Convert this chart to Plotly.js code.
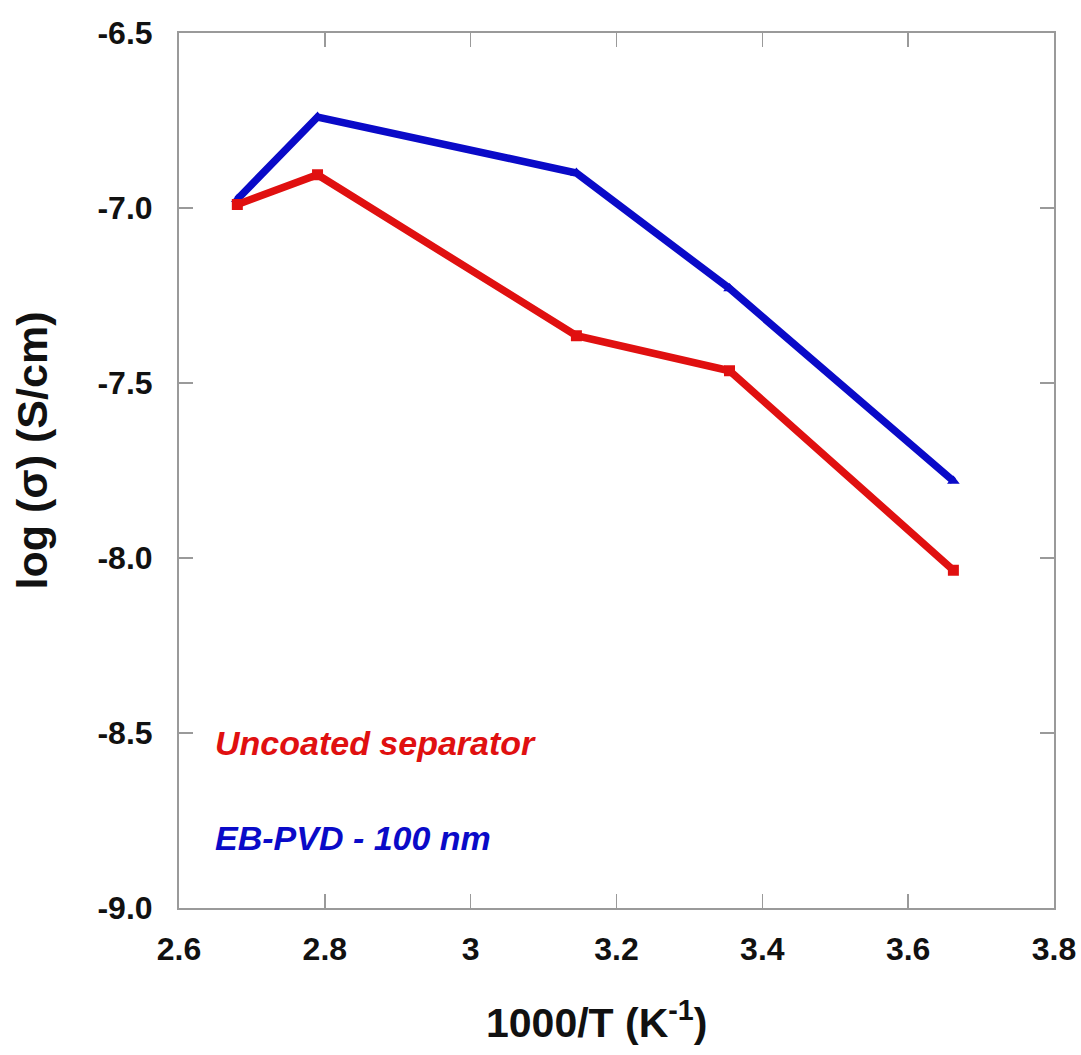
<!DOCTYPE html>
<html>
<head>
<meta charset="utf-8">
<script src="https://cdn.plot.ly/plotly-3.0.1.min.js"></script>
<style>html,body{margin:0;padding:0;background:#fff;}#chart{width:1081px;height:1055px;}</style>
</head>
<body>
<div id="chart"></div>
<script>
// Data
const invT = [2.68, 2.79, 3.145, 3.355, 3.662];
const uncoatedLogSigma = [-6.99, -6.905, -7.365, -7.465, -8.035];
const ebpvdLogSigma = [-6.975, -6.74, -6.90, -7.23, -7.78];
const xTickVals = [2.6, 2.8, 3.0, 3.2, 3.4, 3.6, 3.8];
const xTickText = ["2.6", "2.8", "3", "3.2", "3.4", "3.6", "3.8"];
const yTickVals = [-9.0, -8.5, -8.0, -7.5, -7.0, -6.5];
const yTickText = ["-9.0", "-8.5", "-8.0", "-7.5", "-7.0", "-6.5"];
const seriesNames = ["Uncoated separator", "EB-PVD - 100 nm"];
const xTitle = "1000/T (K<sup>-1</sup>)";
const yTitle = "log (σ) (S/cm)";

const FONT = "Liberation Sans, Arial, sans-serif";
const RED = "#e01010";
const BLUE = "#0a0ac8";

const traces = [
  {
    x: invT, y: ebpvdLogSigma, name: seriesNames[1], type: "scatter", mode: "lines+markers",
    line: {color: BLUE, width: 7.5},
    marker: {symbol: "triangle-up", size: 11, color: BLUE}
  },
  {
    x: invT, y: uncoatedLogSigma, name: seriesNames[0], type: "scatter", mode: "lines+markers",
    line: {color: RED, width: 7.5},
    marker: {symbol: "square", size: 11, color: RED}
  }
];

const tickFont = {family: FONT, size: 32, color: "#111", weight: "bold"};
const axisCommon = {
  showgrid: false, zeroline: false,
  showline: true, linecolor: "#9a9a9a", linewidth: 2, mirror: "ticks",
  ticks: "inside", ticklen: 14, tickwidth: 1.5, tickcolor: "#9a9a9a",
  tickfont: tickFont
};

const layout = {
  width: 1081, height: 1055,
  margin: {l: 179, r: 27, t: 33, b: 147},
  paper_bgcolor: "#fff", plot_bgcolor: "#fff",
  showlegend: false,
  xaxis: Object.assign({}, axisCommon, {
    range: [2.6, 3.8], tickvals: xTickVals, ticktext: xTickText,
    ticklabelstandoff: 12
  }),
  yaxis: Object.assign({}, axisCommon, {
    range: [-9.0, -6.5], tickvals: yTickVals, ticktext: yTickText,
    ticklabelstandoff: 18
  }),
  annotations: [
    {xref: "paper", yref: "paper", x: 0.039, y: 0.189, xanchor: "left", yanchor: "middle",
     text: "<b><i>" + seriesNames[0] + "</i></b>", showarrow: false,
     font: {family: FONT, size: 34, color: RED}},
    {xref: "paper", yref: "paper", x: 0.039, y: 0.08, xanchor: "left", yanchor: "middle",
     text: "<b><i>" + seriesNames[1] + "</i></b>", showarrow: false,
     font: {family: FONT, size: 34, color: BLUE}},
    // axis titles placed as in the reference
    {xref: "paper", yref: "paper", x: 0.477, y: -0.128, xanchor: "center", yanchor: "middle",
     text: "<b>" + xTitle + "</b>", showarrow: false,
     font: {family: FONT, size: 41, color: "#111"}},
    {xref: "paper", yref: "paper", x: -0.168, y: 0.523, xanchor: "center", yanchor: "middle",
     text: "<b>" + yTitle + "</b>", showarrow: false, textangle: -90,
     font: {family: FONT, size: 43, color: "#111"}}
  ]
};

Plotly.newPlot("chart", traces, layout, {displayModeBar: false, staticPlot: true});
</script>
</body>
</html>
